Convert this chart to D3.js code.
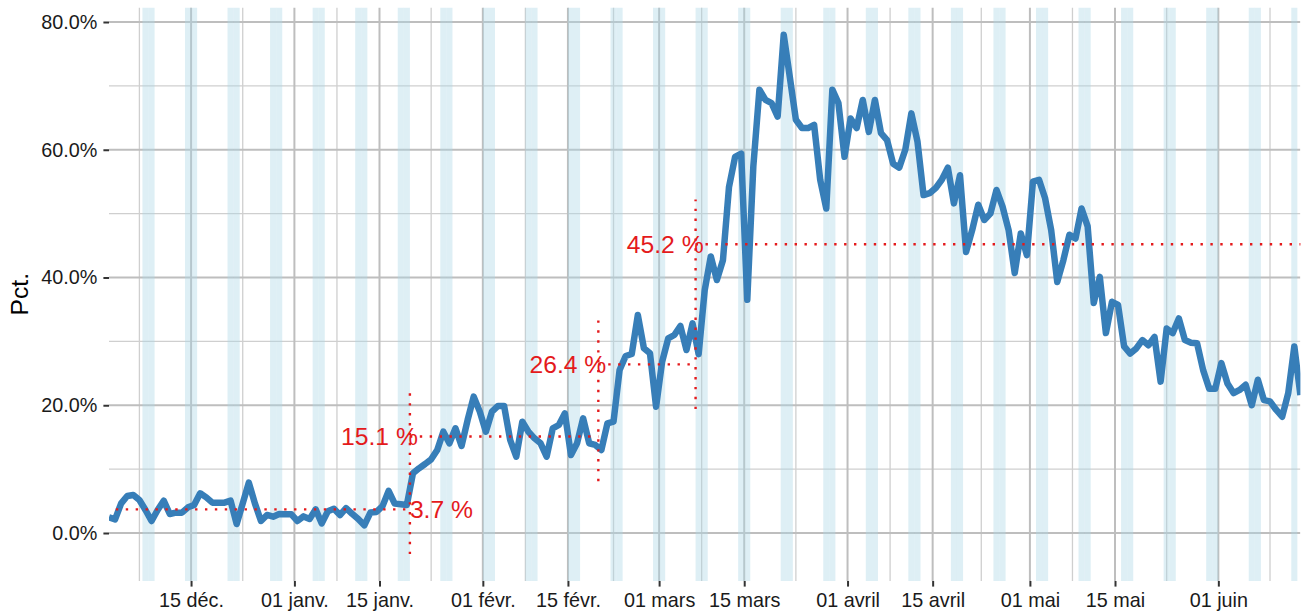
<!DOCTYPE html>
<html>
<head>
<meta charset="utf-8">
<script src="https://cdn.jsdelivr.net/npm/d3@7"></script>
<style>
  body { margin: 0; background: #fff; }
  svg { display: block; font-family: "Liberation Sans", Arial, sans-serif; }
</style>
</head>
<body>
<div id="chart"></div>
<script>
// daily share, 1 Dec 2019 -> 14 Jun 2020
const firstDay = '2019-12-01';
const lastDay = '2020-06-14';
const pct = [
  2.45, 2.14, 4.64, 5.79, 5.95, 5.17, 3.6, 1.88, 3.6, 5.06,
  2.97, 3.18, 3.18, 4.02, 4.38, 6.21, 5.58, 4.75, 4.75, 4.75,
  5.06, 1.41, 4.64, 7.88, 4.64, 1.88, 2.82, 2.56, 2.97, 2.92,
  2.92, 1.88, 2.6, 2.2, 3.7, 1.5, 3.4, 3.8, 2.8, 3.9,
  3.0, 2.2, 1.2, 3.2, 3.3, 4.2, 6.6, 4.6, 4.5, 4.4,
  9.34, 10.12, 10.8, 11.53, 13.0, 15.86, 14.04, 16.39, 13.62, 17.7,
  21.34, 19.0, 15.86, 19.0, 19.9, 19.9, 14.56, 11.95, 17.43, 15.86,
  14.82, 14.04, 11.95, 16.39, 16.91, 18.73, 12.21, 14.04, 17.95, 14.04,
  13.78, 12.99, 17.17, 17.43, 25.52, 27.71, 28.02, 34.13, 28.91, 28.13,
  19.78, 26.82, 30.48, 31.0, 32.41, 28.65, 32.82, 28.0, 38.0, 43.3,
  39.6, 42.7, 54.2, 58.9, 59.4, 36.5, 57.4, 69.4, 67.8, 67.3,
  65.2, 78.0, 71.4, 64.7, 63.4, 63.4, 63.9, 55.3, 50.8, 69.4,
  67.3, 58.9, 64.9, 63.4, 67.8, 62.8, 67.8, 62.6, 61.5, 57.8,
  57.2, 60.0, 65.7, 61.3, 52.9, 53.2, 54.0, 55.3, 57.2, 51.6,
  56.0, 44.0, 47.4, 51.4, 49.0, 50.0, 53.7, 51.1, 47.4, 40.7,
  46.9, 43.5, 55.0, 55.3, 52.4, 47.4, 39.3, 42.7, 46.7, 46.1,
  50.8, 48.0, 36.0, 40.1, 31.3, 36.2, 35.7, 29.2, 28.1, 28.9,
  30.2, 29.4, 30.7, 23.7, 32.0, 31.3, 33.6, 30.2, 29.8, 29.7,
  25.5, 22.6, 22.6, 26.6, 23.4, 21.9, 22.4, 23.2, 20.0, 24.0,
  20.8, 20.6, 19.3, 18.2, 21.9, 29.2, 21.6
];

// periods and their averages
const periodStart = ['2019-12-01', '2020-01-20', '2020-02-20', '2020-03-07'];
const periodEnd = ['2020-01-20', '2020-02-20', '2020-03-07', '2020-06-15'];
const periodMean = [3.7, 15.1, 26.4, 45.2];

const tickDates = ['2019-12-15', '2020-01-01', '2020-01-15', '2020-02-01', '2020-02-15', '2020-03-01',
  '2020-03-15', '2020-04-01', '2020-04-15', '2020-05-01', '2020-05-15', '2020-06-01'];
const tickLabels = ['15 déc.', '01 janv.', '15 janv.', '01 févr.', '15 févr.', '01 mars',
  '15 mars', '01 avril', '15 avril', '01 mai', '15 mai', '01 juin'];
const yTicks = [0, 20, 40, 60, 80];
const yMinor = [10, 30, 50, 70];

const W = 1307, H = 613;
const panel = {left: 109, right: 1300.4, top: 7.5, bottom: 581};
const parse = d3.utcParse('%Y-%m-%d');
const noon = d => d3.utcHour.offset(d, 12);

const days = d3.utcDay.range(parse(firstDay), d3.utcDay.offset(parse(lastDay), 1));
const data = days.map((d, i) => ({date: d, v: pct[i]}));

const x = d3.scaleUtc()
  .domain([noon(parse(firstDay)), noon(parse(lastDay))])
  .range([panel.left, panel.right]);
const y = d3.scaleLinear()
  .domain([-7.515, 82.27])
  .range([panel.bottom, panel.top]);

const svg = d3.select('#chart').append('svg')
  .attr('width', W).attr('height', H);

svg.append('clipPath').attr('id', 'clip')
  .append('rect')
  .attr('x', panel.left).attr('y', panel.top)
  .attr('width', panel.right - panel.left).attr('height', panel.bottom - panel.top);

const g = svg.append('g').attr('clip-path', 'url(#clip)');

// minor x breaks: midpoints of the major ones, extended one step each side
const tk = tickDates.map(parse);
const ext = [new Date(2 * tk[0] - tk[1]), ...tk, new Date(2 * tk[tk.length - 1] - tk[tk.length - 2])];
const xMinor = d3.pairs(ext).map(([a, b]) => new Date((+a + +b) / 2));

g.selectAll('.xminor').data(xMinor).enter().append('line')
  .attr('x1', d => x(d)).attr('x2', d => x(d))
  .attr('y1', panel.top).attr('y2', panel.bottom)
  .attr('stroke', '#cfcfcf').attr('stroke-width', 1.3);
g.selectAll('.yminor').data(yMinor).enter().append('line')
  .attr('x1', panel.left).attr('x2', panel.right)
  .attr('y1', d => y(d)).attr('y2', d => y(d))
  .attr('stroke', '#cfcfcf').attr('stroke-width', 1.3);
g.selectAll('.xmajor').data(tk).enter().append('line')
  .attr('x1', d => x(d)).attr('x2', d => x(d))
  .attr('y1', panel.top).attr('y2', panel.bottom)
  .attr('stroke', '#bebebe').attr('stroke-width', 2);
g.selectAll('.ymajor').data(yTicks).enter().append('line')
  .attr('x1', panel.left).attr('x2', panel.right)
  .attr('y1', d => y(d)).attr('y2', d => y(d))
  .attr('stroke', '#bebebe').attr('stroke-width', 2);

// weekends
const weekend = days.filter(d => (d.getUTCDay() === 0 || d.getUTCDay() === 6)
  && +d > +parse(firstDay) && +d < +parse(lastDay));
g.selectAll('.we').data(weekend).enter().append('rect')
  .attr('x', d => x(d))
  .attr('width', d => x(d3.utcDay.offset(d, 1)) - x(d))
  .attr('y', panel.top).attr('height', panel.bottom - panel.top)
  .attr('fill', '#add8e6').attr('fill-opacity', 0.4);

// the series
const line = d3.line()
  .x(d => x(noon(d.date)))
  .y(d => y(d.v));
g.append('path').datum(data)
  .attr('d', line)
  .attr('fill', 'none')
  .attr('stroke', '#377eb8')
  .attr('stroke-width', 6.5)
  .attr('stroke-linejoin', 'round');

// period averages
const red = '#e41a1c';
const periods = periodMean.map((m, i) => ({
  s: parse(periodStart[i]), e: parse(periodEnd[i]), m: m
}));
g.selectAll('.pm').data(periods).enter().append('line')
  .attr('x1', d => x(d.s)).attr('x2', d => x(d.e))
  .attr('y1', d => y(d.m)).attr('y2', d => y(d.m))
  .attr('stroke', red).attr('stroke-width', 2.4).attr('stroke-dasharray', '2.4 7.5');

svg.selectAll('.plab').data(periods).enter().append('text')
  .attr('x', (d, i) => i === 0 ? x(periods[1].s) : x(d.s) + 8)
  .attr('y', d => y(d.m))
  .attr('dy', '0.35em')
  .attr('text-anchor', (d, i) => i === 0 ? 'start' : 'end')
  .attr('fill', red)
  .style('font-size', '24.7px')
  .text(d => d.m.toFixed(1) + ' %');

const breaks = periods.slice(1).map((d, i) => ({s: d.s, lo: periods[i].m - 7, hi: d.m + 7}));
g.selectAll('.pb').data(breaks).enter().append('line')
  .attr('x1', d => x(d.s)).attr('x2', d => x(d.s))
  .attr('y1', d => y(d.lo)).attr('y2', d => y(d.hi))
  .attr('stroke', red).attr('stroke-width', 2.4).attr('stroke-dasharray', '2.4 7.5');

// axes
const xAxis = svg.append('g').attr('transform', `translate(0,${panel.bottom})`)
  .call(d3.axisBottom(x).tickValues(tk).tickFormat((d, i) => tickLabels[i]).tickSize(5.6).tickPadding(6));
const yAxis = svg.append('g').attr('transform', `translate(${panel.left},0)`)
  .call(d3.axisLeft(y).tickValues(yTicks).tickFormat(d => d3.format('.1f')(d) + '%').tickSize(5.6).tickPadding(6));
[xAxis, yAxis].forEach(a => {
  a.select('.domain').remove();
  a.selectAll('.tick line').attr('stroke', '#333').attr('stroke-width', 2);
  a.selectAll('.tick text').attr('fill', '#1a1a1a').style('font-size', '19.8px').style('font-family', '"Liberation Sans", Arial, sans-serif');
});

svg.append('text')
  .attr('transform', `translate(28,${(panel.top + panel.bottom) / 2}) rotate(-90)`)
  .attr('text-anchor', 'middle')
  .attr('fill', '#000')
  .style('font-size', '24.7px')
  .text('Pct.');
</script>
</body>
</html>
